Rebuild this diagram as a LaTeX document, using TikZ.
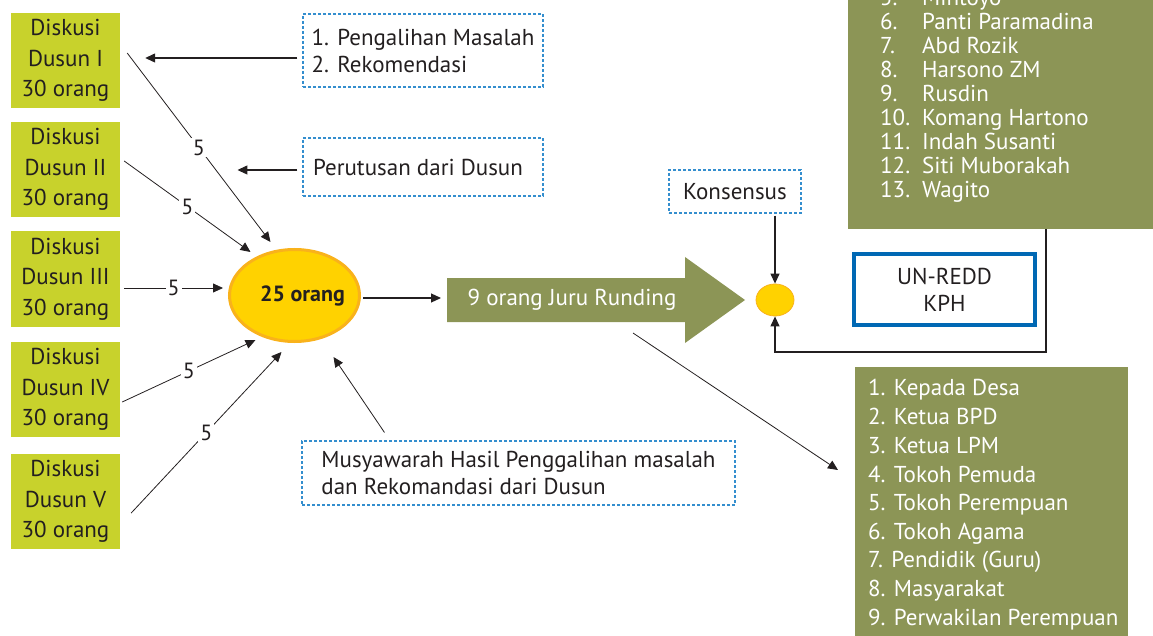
\documentclass[tikz,border=0pt]{standalone}
\usepackage{fontspec}
\setmainfont{PT Sans}
\usetikzlibrary{shapes.geometric,arrows.meta,calc}
\definecolor{dusungreen}{RGB}{200,210,44}
\definecolor{olivebox}{RGB}{140,149,86}
\definecolor{sunyellow}{RGB}{255,210,0}
\definecolor{sunorange}{RGB}{249,178,27}
\definecolor{dashblue}{RGB}{52,142,206}
\definecolor{unblue}{RGB}{0,104,180}
\definecolor{textgray}{RGB}{35,31,32}
\tikzset{
  dusunbox/.style={fill=dusungreen, minimum width=109, minimum height=95, inner sep=0pt,
    align=center, text=textgray, font=\fontsize{23}{30.5}\selectfont},
  notebox/.style={draw=dashblue, line width=1.1pt, dash pattern=on 3pt off 2pt,
    align=left, text=textgray, font=\fontsize{23}{27}\selectfont},
  listline/.style={anchor=west, inner sep=0pt, text=white, text height=16pt, text depth=0pt,
    font=\fontsize{23}{24}\selectfont},
  fivelabel/.style={fill=white, inner sep=2pt, text=textgray, font=\fontsize{22}{24}\selectfont},
  thinarr/.style={-{Triangle[length=10pt,width=9pt]}, line width=0.8pt, draw=textgray},
  arr/.style={-{Triangle[length=10pt,width=9pt]}, line width=1.2pt, draw=textgray}
}
\begin{document}
\begin{tikzpicture}[x=1pt,y=-1pt]
    \useasboundingbox (0,0) rectangle (1153,636);
    \clip (0,0) rectangle (1153,636);
    % Discussion groups of the hamlets.
    \node[dusunbox] (d1) at (65.5,60.5) {Diskusi\\Dusun I\\30 orang};
    \node[dusunbox] (d2) at (65.5,169.5) {Diskusi\\Dusun II\\30 orang};
    \node[dusunbox] (d3) at (65.5,279) {Diskusi\\Dusun III\\30 orang};
    \node[dusunbox] (d4) at (65.5,389.5) {Diskusi\\Dusun IV\\30 orang};
    \node[dusunbox] (d5) at (65.5,501.5) {Diskusi\\Dusun V\\30 orang};
    % The meeting of delegates.
    \node[ellipse, fill=sunyellow, draw=sunorange, line width=3pt, minimum width=130,
      minimum height=92] (ell) at (294.5,295.5) {};
    \node[text=textgray, font=\bfseries\fontsize{22}{24}\selectfont] (elltext)
      at ($(ell.center)+(8,0)$) {25 orang};
    % Dashed notes.
    \node[notebox, minimum width=240, minimum height=73] (t1) at (423,50.5)
      {1. Pengalihan Masalah\\2. Rekomendasi};
    \node[notebox, minimum width=240, minimum height=58] (t2) at (423,167)
      {Perutusan dari Dusun\hspace*{10pt}};
    \node[notebox, minimum width=433, minimum height=64] (t3) at (518.5,473)
      {Musyawarah Hasil Penggalihan masalah\\dan Rekomandasi dari Dusun};
    \node[notebox, minimum width=132, minimum height=43] (k) at (735,191.5) {Konsensus};
    % The negotiators arrow.
    \coordinate (jrtail) at (447,300);
    \fill[olivebox] (jrtail) ++(0,-22) -- ++(238,0) -- ++(0,-21) -- (745,300) -- (685,343)
      -- ++(0,-21) -- ++(-238,0) -- cycle;
    \node[text=white, font=\fontsize{23}{24}\selectfont] (jr) at (572,300) {9 orang Juru Runding};
    \node[ellipse, fill=sunyellow, draw=sunorange, line width=0.8pt, minimum width=38,
      minimum height=32, inner sep=0pt] (cons) at (775,300) {};
    \node[draw=unblue, line width=4pt, minimum width=181, minimum height=71, align=center,
      text=textgray, font=\fontsize{23}{27}\selectfont] (u) at (944.5,289.5) {UN-REDD\\KPH};
    % Names of the negotiators.
    \node[fill=olivebox, minimum width=330, minimum height=270, inner sep=0pt, anchor=south west]
      (tl) at (848,229) {};
    \node[listline] (tl5) at (880,-2) {\makebox[42pt][l]{5.}Mintoyo};
    \node[listline] (tl6) at (880,22) {\makebox[42pt][l]{6.}Panti Paramadina};
    \node[listline] (tl7) at (880,46) {\makebox[42pt][l]{7.}Abd Rozik};
    \node[listline] (tl8) at (880,70) {\makebox[42pt][l]{8.}Harsono ZM};
    \node[listline] (tl9) at (880,94) {\makebox[42pt][l]{9.}Rusdin};
    \node[listline] (tl10) at (880,118) {\makebox[42pt][l]{10.}Komang Hartono};
    \node[listline] (tl11) at (880,142) {\makebox[42pt][l]{11.}Indah Susanti};
    \node[listline] (tl12) at (880,166) {\makebox[42pt][l]{12.}Siti Muborakah};
    \node[listline] (tl13) at (880,190) {\makebox[42pt][l]{13.}Wagito};
    % Members drawn from the village.
    \node[fill=olivebox, minimum width=273, minimum height=290, inner sep=0pt, anchor=north west]
      (bl) at (855,367) {};
    \node[listline] (bl1) at (868,387) {1. Kepada Desa};
    \node[listline] (bl2) at (868,416) {2. Ketua BPD};
    \node[listline] (bl3) at (868,445) {3. Ketua LPM};
    \node[listline] (bl4) at (868,474) {4. Tokoh Pemuda};
    \node[listline] (bl5) at (868,502) {5. Tokoh Perempuan};
    \node[listline] (bl6) at (868,531) {6. Tokoh Agama};
    \node[listline] (bl7) at (868,559) {7. Pendidik (Guru)};
    \node[listline] (bl8) at (868,588) {8. Masyarakat};
    \node[listline] (bl9) at (868,617) {9. Perwakilan Perempuan};
    % Delegates to the meeting.
    \draw[thinarr] ($(d1.east)+(7,-7.5)$) -- node[fivelabel] {5} ($(ell.north)+(-24,-6)$);
    \draw[thinarr] ($(d2.east)+(4,-8.5)$) -- node[fivelabel] {5} ($(ell.center)+(-44,-43.5)$);
    \draw[thinarr] ($(d3.east)+(4,9)$) -- node[fivelabel] {5} ($(ell.west)+(-5,-7.5)$);
    \draw[thinarr] ($(d4.east)+(2,12.5)$) -- node[fivelabel] {5} ($(ell.center)+(-39,44.5)$);
    \draw[thinarr] ($(d5.east)+(11,11.5)$) -- node[fivelabel] {5} ($(ell.center)+(-13,56.5)$);
    % Other connectors.
    \draw[arr] ($(t1.west)+(-5,7.5)$) -- ($(d1.east)+(25,-2.5)$);
    \draw[arr] ($(t2.west)+(-5,3)$) -- ++(-60,0);
    \draw[thinarr] ($(t3.north west)+(83,-8)$) -- ($(ell.south)+(39,14)$);
    \draw[arr] ($(ell.east)+(2,2.5)$) -- ($(jrtail)+(-6,-2)$);
    \draw[arr] ($(k.south -| cons.north)+(0,2)$) -- (cons.north);
    \draw[arr] ($(tl.south west)+(198,0)$) -- ++(0,123) -| (cons.south);
    \draw[thinarr] ($(jrtail)+(186,33)$) -- ($(bl.north west)+(-17,103)$);
\end{tikzpicture}
\end{document}
